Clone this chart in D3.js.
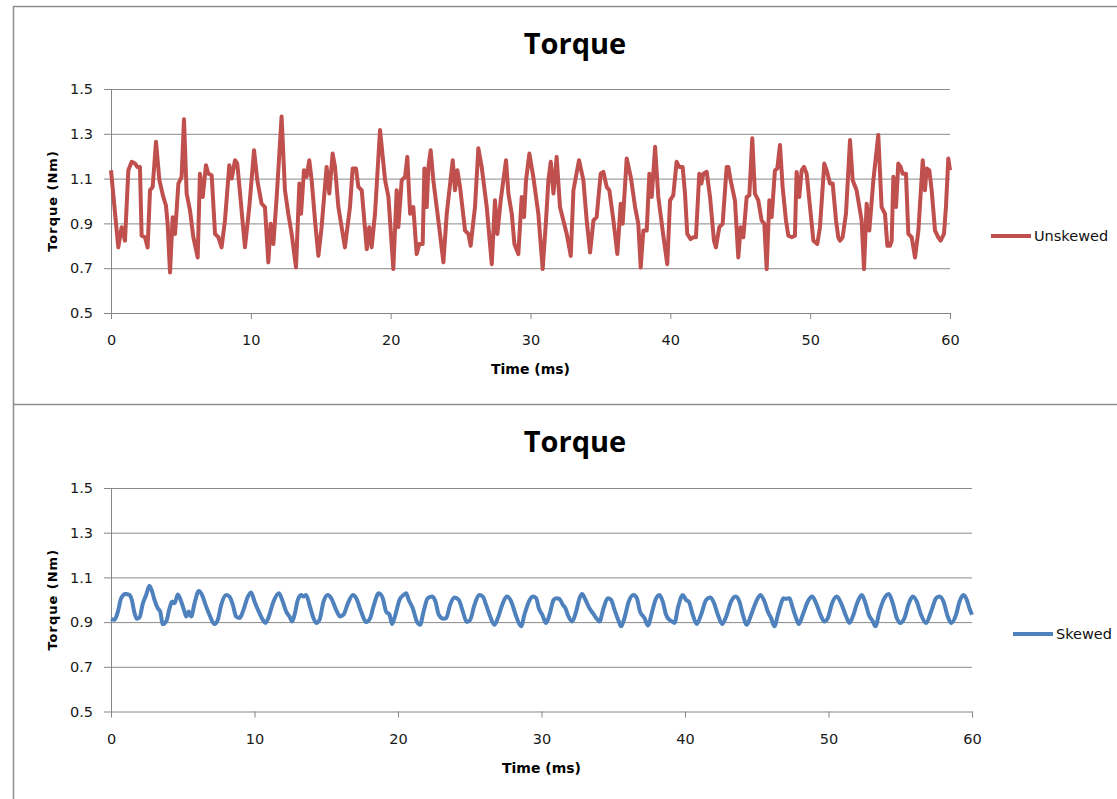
<!DOCTYPE html>
<html lang="en">
<head>
    <meta charset="UTF-8">
    <title>Torque - unskewed vs skewed</title>
    <script src="https://d3js.org/d3.v7.min.js"></script>
    <style type="text/css">
        body {
            margin: 0;
            background: white;
        }
        .tick text {
            font: 14.5px "DejaVu Sans", sans-serif;
            fill: #1a1a1a;
        }
        .tick line, .domain {
            stroke: #868686;
        }
        .grid .tick line {
            stroke: #8a8a8a;
        }
        .grid .domain {
            display: none;
        }
        .title {
            font: bold 29px "Open Sans", sans-serif;
            fill: black;
        }
        .axis-title {
            font: bold 14px "DejaVu Sans", sans-serif;
            fill: black;
        }
        .legend-text {
            font: 14.5px "DejaVu Sans", sans-serif;
            fill: #111;
        }
    </style>
</head>
<body>
<svg></svg>
<script>

// Unskewed rotor (top chart) - time in ms, torque in Nm
var unskewedTime = [0, 0.52, 0.76, 1.0, 1.24, 1.48, 1.72, 1.88, 2.07, 2.19, 2.43, 2.62, 2.79, 2.98, 3.22, 3.46, 3.74, 3.93, 4.05, 4.22,
    4.41, 4.58, 4.82, 5.05, 5.22, 5.41, 5.65, 5.89, 6.2, 6.36, 6.56, 6.79, 6.96, 7.2, 7.44, 7.68, 7.91, 8.15, 8.46, 8.63,
    8.87, 9.03, 9.23, 9.58, 9.89, 10.23, 10.46, 10.77, 11.01, 11.25, 11.42, 11.61, 11.85, 12.2, 12.44, 12.68, 12.92, 13.23, 13.47, 13.59,
    13.8, 13.99, 14.18, 14.35, 14.59, 14.83, 15.06, 15.42, 15.61, 15.85, 16.02, 16.26, 16.73, 17.09, 17.28, 17.52, 17.69, 17.93, 18.29, 18.47,
    18.64, 18.88, 19.24, 19.6, 19.84, 20.19, 20.43, 20.55, 20.79, 21.03, 21.19, 21.39, 21.62, 21.86, 22.05, 22.29, 22.41, 22.58, 22.7, 22.86,
    23.05, 23.29, 23.53, 23.77, 24.01, 24.44, 24.6, 24.77, 24.96, 25.32, 25.56, 25.72, 26.03, 26.27, 26.51, 26.87, 27.23, 27.46, 27.63, 27.87,
    28.25, 28.42, 28.66, 28.85, 29.13, 29.37, 29.54, 29.68, 29.92, 30.2, 30.56, 30.87, 31.11, 31.28, 31.45, 31.64, 31.87, 32.11, 32.59, 32.88,
    33.07, 33.47, 33.78, 34.02, 34.26, 34.5, 34.73, 35.02, 35.21, 35.45, 35.64, 35.93, 36.21, 36.45, 36.59, 36.88, 37.17, 37.48, 37.71, 37.88,
    38.07, 38.31, 38.5, 38.67, 38.91, 39.14, 39.5, 39.78, 39.98, 40.21, 40.45, 40.64, 40.88, 41.05, 41.21, 41.45, 41.64, 41.83, 42.07, 42.22,
    42.36, 42.6, 42.84, 43.12, 43.26, 43.5, 43.74, 44.03, 44.15, 44.31, 44.62, 44.86, 45.03, 45.22, 45.46, 45.65, 45.86, 46.05, 46.29, 46.53,
    46.72, 46.89, 47.08, 47.25, 47.48, 47.65, 47.84, 48.03, 48.27, 48.44, 48.68, 48.91, 49.03, 49.22, 49.39, 49.56, 49.75, 49.99, 50.23, 50.51,
    50.7, 51.01, 51.18, 51.42, 51.61, 51.85, 52.01, 52.13, 52.32, 52.56, 52.85, 53.04, 53.32, 53.56, 53.68, 53.85, 54.04, 54.23, 54.52, 54.87,
    55.11, 55.35, 55.52, 55.71, 55.83, 55.95, 56.14, 56.3, 56.47, 56.61, 56.85, 57.02, 57.26, 57.5, 57.74, 58.05, 58.21, 58.33, 58.52, 58.69,
    58.93, 59.16, 59.33, 59.57, 59.71, 59.88, 60];
var unskewedTorque = [1.137, 0.793, 0.883, 0.823, 1.137, 1.175, 1.167, 1.152, 1.152, 0.845, 0.838, 0.793, 1.048, 1.063, 1.265, 1.093, 1.018, 0.98, 0.898, 0.681,
    0.928, 0.853, 1.078, 1.108, 1.365, 1.033, 0.958, 0.838, 0.748, 1.122, 1.018, 1.16, 1.122, 1.115, 0.853, 0.838, 0.793, 0.913, 1.16, 1.1,
    1.182, 1.167, 1.033, 0.793, 0.973, 1.227, 1.093, 0.988, 0.973, 0.726, 0.898, 0.808, 1.018, 1.377, 1.048, 0.943, 0.853, 0.703, 1.078, 0.943,
    1.137, 1.108, 1.182, 1.093, 0.913, 0.755, 0.883, 1.152, 1.033, 1.212, 1.152, 0.973, 0.793, 0.973, 1.145, 1.145, 1.063, 1.048, 0.785, 0.883,
    0.793, 0.943, 1.317, 1.093, 1.018, 0.696, 1.048, 0.883, 1.093, 1.108, 1.197, 0.943, 0.973, 0.763, 0.808, 0.808, 1.145, 0.973, 1.152, 1.227,
    1.093, 0.973, 0.853, 0.726, 0.943, 1.182, 1.048, 1.137, 1.063, 0.868, 0.853, 0.8, 0.973, 1.235, 1.152, 0.973, 0.718, 1.003, 0.853, 1.003,
    1.182, 1.033, 0.943, 0.808, 0.763, 1.018, 0.928, 1.093, 1.212, 1.108, 0.943, 0.696, 0.913, 1.093, 1.175, 1.033, 1.197, 0.973, 0.853, 0.755,
    1.048, 1.182, 1.093, 0.913, 0.77, 0.913, 0.928, 1.122, 1.13, 1.063, 1.048, 0.913, 0.763, 0.988, 0.898, 1.19, 1.108, 0.973, 0.898, 0.703,
    0.868, 0.868, 1.122, 1.018, 1.242, 1.018, 0.845, 0.718, 1.003, 1.025, 1.175, 1.152, 1.152, 1.033, 0.853, 0.83, 0.838, 0.838, 1.122, 1.078,
    1.122, 1.13, 1.018, 0.823, 0.793, 0.883, 0.898, 1.152, 1.152, 1.093, 1.003, 0.748, 0.883, 0.838, 1.018, 1.025, 1.28, 1.033, 1.003, 0.913,
    0.898, 0.696, 1.003, 0.928, 1.137, 1.145, 1.25, 1.063, 0.913, 0.845, 0.838, 0.845, 1.13, 1.018, 1.137, 1.152, 1.122, 0.973, 0.823, 0.808,
    0.883, 1.167, 1.137, 1.078, 1.078, 0.913, 0.838, 0.823, 0.838, 0.943, 1.272, 1.093, 1.048, 0.958, 0.913, 0.696, 0.988, 0.868, 1.093, 1.295,
    0.973, 0.943, 0.8, 0.8, 0.823, 1.108, 0.973, 1.167, 1.152, 1.122, 1.122, 0.853, 0.838, 0.748, 0.868, 1.182, 1.048, 1.145, 1.137, 1.048,
    0.868, 0.838, 0.823, 0.853, 0.973, 1.19, 1.137];

// Skewed rotor (bottom chart)
var skewedTime = [0, 0.24, 0.48, 0.71, 1.01, 1.29, 1.45, 1.64, 1.8, 1.99, 2.22, 2.45, 2.68, 2.87, 3.03, 3.26, 3.43, 3.61, 3.85, 4.08,
    4.26, 4.43, 4.66, 4.89, 5.12, 5.24, 5.42, 5.59, 5.82, 6.12, 6.35, 6.59, 6.86, 7.21, 7.44, 7.68, 8.03, 8.26, 8.49, 8.72,
    8.96, 9.19, 9.54, 9.77, 10.0, 10.3, 10.58, 10.77, 11.0, 11.28, 11.7, 11.93, 12.21, 12.44, 12.63, 12.79, 13.02, 13.25, 13.41, 13.6,
    13.83, 14.07, 14.3, 14.53, 14.81, 15.11, 15.34, 15.69, 15.97, 16.2, 16.51, 16.86, 17.09, 17.43, 17.78, 18.06, 18.29, 18.66, 18.94, 19.17,
    19.41, 19.59, 19.82, 20.1, 20.38, 20.57, 20.75, 21.03, 21.31, 21.54, 21.78, 22.08, 22.38, 22.61, 22.84, 23.17, 23.36, 23.63, 23.94, 24.24,
    24.52, 24.8, 25.03, 25.33, 25.68, 25.91, 26.14, 26.38, 26.72, 26.96, 27.26, 27.58, 27.89, 28.05, 28.28, 28.58, 28.81, 29.12, 29.4, 29.63,
    29.81, 30.05, 30.32, 30.56, 30.84, 31.02, 31.25, 31.49, 31.67, 31.83, 32.14, 32.41, 32.65, 32.83, 33.07, 33.34, 33.58, 33.81, 34.04, 34.32,
    34.62, 34.85, 35.09, 35.39, 35.55, 35.78, 36.08, 36.41, 36.64, 36.87, 37.18, 37.41, 37.71, 37.94, 38.22, 38.45, 38.68, 38.92, 39.1, 39.27,
    39.5, 39.85, 40.08, 40.26, 40.54, 40.82, 41.12, 41.47, 41.75, 41.98, 42.29, 42.59, 42.87, 43.21, 43.52, 43.79, 44.03, 44.31, 44.61, 44.96,
    45.26, 45.54, 45.77, 46.0, 46.23, 46.47, 46.7, 46.86, 47.05, 47.28, 47.51, 47.74, 47.93, 48.21, 48.56, 48.86, 49.14, 49.49, 49.72, 49.95,
    50.25, 50.58, 50.88, 51.23, 51.46, 51.69, 52.04, 52.32, 52.58, 52.81, 53.09, 53.27, 53.55, 53.83, 54.2, 54.48, 54.76, 54.99, 55.29, 55.6,
    55.87, 56.15, 56.45, 56.8, 57.15, 57.5, 57.73, 58.01, 58.31, 58.55, 58.89, 59.13, 59.41, 59.64, 59.82, 60];
var skewedTorque = [0.915, 0.91, 0.947, 1.007, 1.026, 1.021, 0.999, 0.94, 0.915, 0.921, 0.984, 1.021, 1.063, 1.036, 0.999, 0.962, 0.947, 0.891, 0.903, 0.962,
    0.992, 0.984, 1.024, 0.992, 0.947, 0.925, 0.947, 0.925, 0.984, 1.039, 1.021, 0.977, 0.933, 0.891, 0.91, 0.977, 1.021, 1.014, 0.977, 0.925,
    0.918, 0.947, 1.014, 1.033, 0.992, 0.947, 0.91, 0.896, 0.925, 0.984, 1.029, 0.999, 0.947, 0.925, 0.903, 0.933, 0.999, 1.021, 1.014, 1.021,
    0.977, 0.925, 0.896, 0.91, 0.992, 1.021, 1.007, 0.955, 0.925, 0.933, 0.984, 1.021, 1.007, 0.947, 0.9, 0.918, 0.97, 1.029, 1.007, 0.947,
    0.933, 0.891, 0.933, 0.999, 1.021, 1.029, 0.999, 0.962, 0.903, 0.888, 0.947, 1.007, 1.014, 0.992, 0.933, 0.915, 0.918, 0.977, 1.01, 0.999,
    0.947, 0.9, 0.91, 0.977, 1.021, 1.014, 0.977, 0.933, 0.888, 0.918, 0.977, 1.014, 0.992, 0.962, 0.918, 0.881, 0.933, 0.992, 1.014, 1.007,
    0.962, 0.933, 0.896, 0.933, 0.999, 1.007, 1.004, 0.977, 0.962, 0.933, 0.903, 0.947, 1.007, 1.026, 0.999, 0.962, 0.94, 0.918, 0.903, 0.962,
    1.007, 0.999, 0.955, 0.903, 0.881, 0.918, 0.992, 1.021, 1.007, 0.947, 0.918, 0.885, 0.947, 0.999, 1.021, 0.992, 0.933, 0.91, 0.903, 0.896,
    0.962, 1.021, 0.999, 0.992, 0.933, 0.891, 0.933, 0.999, 1.01, 0.992, 0.933, 0.891, 0.925, 0.992, 1.014, 0.992, 0.933, 0.888, 0.933, 0.992,
    1.021, 0.992, 0.947, 0.918, 0.881, 0.933, 0.984, 1.007, 1.004, 1.007, 0.962, 0.918, 0.891, 0.933, 0.992, 1.014, 0.984, 0.925, 0.903, 0.918,
    0.984, 1.014, 0.984, 0.925, 0.896, 0.925, 0.992, 1.021, 0.984, 0.933, 0.903, 0.881, 0.947, 0.999, 1.026, 0.984, 0.918, 0.896, 0.918, 0.984,
    1.014, 0.992, 0.933, 0.896, 0.947, 1.007, 1.014, 0.992, 0.925, 0.896, 0.933, 0.992, 1.021, 0.999, 0.962, 0.933];

var xTicks = [0, 10, 20, 30, 40, 50, 60];
var yTicks = [0.5, 0.7, 0.9, 1.1, 1.3, 1.5];

var svgWidth = 1117;
var svgHeight = 799;

var svg = d3.select("svg")
    .attr("width", svgWidth)
    .attr("height", svgHeight);

// chart frame (left edge, top edge and the line between the two charts)
svg.append("path")
    .attr("d", "M13.5,799 V6.5 H1117 M13.5,404.5 H1117")
    .attr("fill", "none")
    .attr("stroke", "#8e8e8e")
    .attr("stroke-width", 1.5);

function drawPanel(p) {
    var xs = d3.scaleLinear().domain([0, 60]).range([p.left, p.right]);
    var ys = d3.scaleLinear().domain([0.5, 1.5]).range([p.bottom, p.top]);

    // horizontal gridlines
    svg.append("g")
        .attr("class", "grid")
        .attr("transform", "translate(" + p.left + ",0)")
        .call(d3.axisLeft(ys).tickValues(yTicks.slice(1)).tickSize(-(p.right - p.left)).tickFormat(""));

    svg.append("g")
        .attr("transform", "translate(" + p.left + ",0)")
        .call(d3.axisLeft(ys)
            .tickValues(yTicks)
            .tickSize(7)
            .tickSizeOuter(0)
            .tickPadding(11)
            .tickFormat(d3.format(".1f")));

    svg.append("g")
        .attr("transform", "translate(0," + p.bottom + ")")
        .call(d3.axisBottom(xs)
            .tickValues(xTicks)
            .tickSize(6)
            .tickSizeOuter(0)
            .tickPadding(16));

    var line = d3.line()
        .x(function(d) { return xs(d[0]); })
        .y(function(d) { return ys(d[1]); })
        .curve(p.curve);

    svg.append("path")
        .datum(d3.zip(p.time, p.torque))
        .attr("d", line)
        .attr("fill", "none")
        .attr("stroke", p.colour)
        .attr("stroke-width", 4)
        .attr("stroke-linejoin", "round");

    svg.append("text")
        .attr("class", "title")
        .attr("x", 575)
        .attr("y", p.titleY)
        .attr("text-anchor", "middle")
        .text("Torque");

    svg.append("text")
        .attr("class", "axis-title")
        .attr("transform", "translate(52," + ((p.top + p.bottom) / 2) + ") rotate(-90)")
        .attr("dy", "0.35em")
        .attr("text-anchor", "middle")
        .style("letter-spacing", "1px")
        .style("font-size", "13px")
        .text("Torque (Nm)");

    svg.append("text")
        .attr("class", "axis-title")
        .attr("x", (p.left + p.right) / 2)
        .attr("y", p.bottom + 61)
        .attr("text-anchor", "middle")
        .text("Time (ms)");

    // legend
    svg.append("line")
        .attr("x1", p.legendX)
        .attr("x2", p.legendX + 40)
        .attr("y1", p.legendY)
        .attr("y2", p.legendY)
        .attr("stroke", p.colour)
        .attr("stroke-width", 4);

    svg.append("text")
        .attr("class", "legend-text")
        .attr("x", p.legendX + 43)
        .attr("y", p.legendY)
        .attr("dy", "0.36em")
        .text(p.name);
}

drawPanel({
    name: "Unskewed", time: unskewedTime, torque: unskewedTorque, colour: "#c0504d",
    left: 111, right: 950, top: 89, bottom: 313, titleY: 54,
    legendX: 991, legendY: 236, curve: d3.curveLinear
});

drawPanel({
    name: "Skewed", time: skewedTime, torque: skewedTorque, colour: "#4f81bd",
    left: 111, right: 972, top: 488, bottom: 711.5, titleY: 452,
    legendX: 1013, legendY: 634, curve: d3.curveMonotoneX
});

</script>
</body>
</html>
